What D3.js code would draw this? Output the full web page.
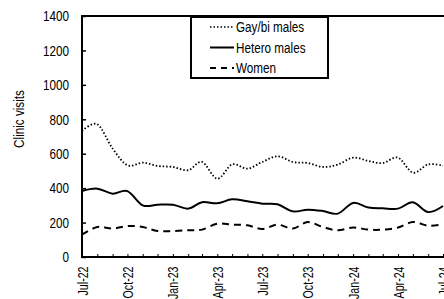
<!DOCTYPE html>
<html>
<head>
<meta charset="utf-8">
<script src="https://cdn.jsdelivr.net/npm/d3@7"></script>
<style>
body { margin: 0; background: #fff; }
text { font-family: "Liberation Sans", Arial, sans-serif; fill: #000; }
</style>
</head>
<body>
<script>
// monthly clinic visits, Jul-22 .. Jul-24
var months = ["Jul-22","Aug-22","Sep-22","Oct-22","Nov-22","Dec-22","Jan-23","Feb-23","Mar-23","Apr-23","May-23","Jun-23",
  "Jul-23","Aug-23","Sep-23","Oct-23","Nov-23","Dec-23","Jan-24","Feb-24","Mar-24","Apr-24","May-24","Jun-24","Jul-24"];
var gayBi = [732,771,630,533,548,529,523,504,552,455,538,513,552,585,552,546,523,537,577,558,546,577,490,538,531];
var hetero = [383,397,368,383,300,304,304,281,318,312,335,324,310,306,265,275,267,252,314,287,283,281,318,261,296];
var women = [130,174,165,180,174,151,151,155,159,194,188,184,163,188,165,203,174,155,171,159,159,171,203,182,190];
var yTicks = [0,200,400,600,800,1000,1200,1400];
var seriesNames = ["Gay/bi males","Hetero males","Women"];

var w = 444, h = 299;
var pLeft = 82, pTop = 16, pBottom = 257, pRight = 443;
var fs = 15, squeeze = 0.78;  // narrow font look

var parse = d3.timeParse("%b-%y");
var dates = months.map(function(m) { return parse(m); });

var svg = d3.select("body").append("svg")
  .attr("width", w).attr("height", h);

var x = d3.scaleTime().domain([dates[0], dates[dates.length-1]]).range([pLeft, pRight]);
var y = d3.scaleLinear().domain([0,1400]).range([pBottom, pTop]);

// squeeze text horizontally like the original
function narrow(sel, k, pre) {
  sel.each(function() {
    var t = d3.select(this);
    var tx = +t.attr("x") || 0;
    t.attr("x", 0).attr("transform", (pre || "") + "translate(" + tx + ",0) scale(" + k + ",1)");
  });
}

// y axis
var yAxis = svg.append("g").attr("transform", "translate(" + pLeft + ",0)")
  .call(d3.axisLeft(y).tickValues(yTicks).tickSize(-4).tickPadding(13).tickFormat(d3.format("d")));
yAxis.select(".domain").remove();
yAxis.selectAll("line").attr("stroke", "#000").attr("stroke-width", 1.5);
yAxis.selectAll("text").attr("font-size", fs).attr("font-family", null);
narrow(yAxis.selectAll("text"), squeeze);

// x axis
var xAxis = svg.append("g").attr("transform", "translate(0," + pBottom + ")")
  .call(d3.axisBottom(x).tickValues(dates).tickSize(-3).tickFormat(function(d, i) {
    return i % 3 == 0 ? d3.timeFormat("%b-%y")(d) : "";
  }));
xAxis.select(".domain").remove();
xAxis.selectAll("line").attr("stroke", "#000").attr("stroke-width", 1);
xAxis.selectAll("text")
  .attr("font-size", 14).attr("font-family", null)
  .attr("text-anchor", "end")
  .attr("x", -9.5).attr("y", 0).attr("dy", "0.36em");
narrow(xAxis.selectAll("text"), 0.76, "rotate(-90) ");

// frame
svg.append("rect")
  .attr("x", pLeft).attr("y", pTop)
  .attr("width", 470 - pLeft).attr("height", pBottom - pTop)
  .attr("fill", "none").attr("stroke", "#000").attr("stroke-width", 2);

// y title
svg.append("text")
  .attr("transform", "translate(24,119) rotate(-90) scale(" + squeeze + ",1)")
  .attr("text-anchor", "middle")
  .attr("font-size", fs)
  .text("Clinic visits");

var line = d3.line()
  .x(function(d, i) { return x(dates[i]); })
  .y(function(d) { return y(d); })
  .curve(d3.curveCardinal.tension(0));

var styles = [
  { data: gayBi, dash: "1.5,2", width: 1.8 },
  { data: hetero, dash: null, width: 2 },
  { data: women, dash: "7,5", width: 2 }
];

styles.forEach(function(s) {
  svg.append("path")
    .datum(s.data)
    .attr("d", line)
    .attr("fill", "none")
    .attr("stroke", "#000")
    .attr("stroke-width", s.width)
    .attr("stroke-dasharray", s.dash);
});

// legend
var lg = svg.append("g");
lg.append("rect")
  .attr("x", 191).attr("y", 17).attr("width", 137).attr("height", 61)
  .attr("fill", "#fff").attr("stroke", "#000").attr("stroke-width", 2);
var legendDash = ["1.5,2", null, "6,5"];
seriesNames.forEach(function(n, i) {
  var ly = 27 + i * 20.5;
  lg.append("line")
    .attr("x1", 210).attr("x2", 234).attr("y1", ly).attr("y2", ly)
    .attr("stroke", "#000").attr("stroke-width", i == 0 ? 1.5 : 2)
    .attr("stroke-dasharray", legendDash[i]);
  var t = lg.append("text")
    .attr("x", 236).attr("y", ly).attr("dy", "0.36em")
    .attr("font-size", fs)
    .text(n);
  narrow(t, squeeze);
});
</script>
</body>
</html>
